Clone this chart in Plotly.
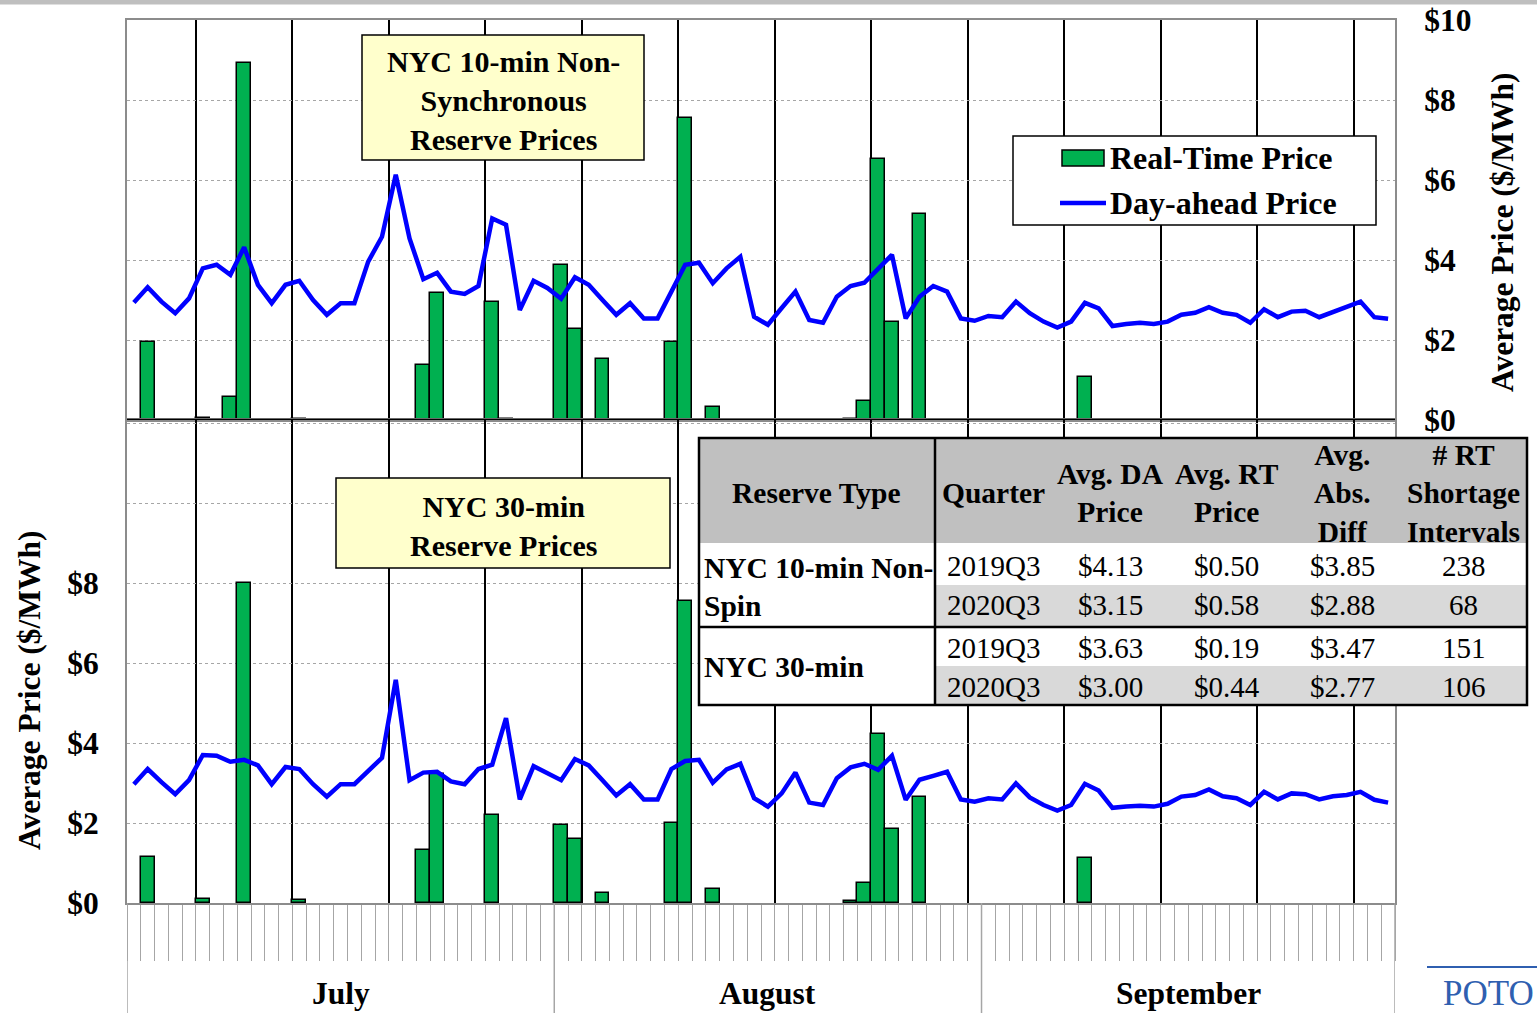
import pandas as pd
import plotly.graph_objects as go
from plotly.subplots import make_subplots

# one value per day, Jul 1 - Sep 30 2020
days = pd.date_range("2020-07-01", "2020-09-30", freq="D")
months = ["July", "August", "September"]
month_edges = ["2020-07-01", "2020-08-01", "2020-09-01", "2020-10-01"]
month_mid = ["2020-07-16 12:00", "2020-08-16 12:00", "2020-09-16"]

# NYC 10-min non-synchronous reserve prices ($/MWh)
da_10min = [2.94, 3.32, 2.96, 2.67, 3.04, 3.79, 3.88, 3.63, 4.32, 3.38,
            2.92, 3.38, 3.48, 3.00, 2.63, 2.92, 2.92, 3.96, 4.58, 6.13,
            4.54, 3.52, 3.68, 3.21, 3.15, 3.35, 5.04, 4.88, 2.75, 3.48,
            3.30, 3.03, 3.57, 3.38, 3.00, 2.63, 2.92, 2.54, 2.54, 3.20,
            3.88, 3.93, 3.42, 3.79, 4.08, 2.58, 2.38, 2.80, 3.21, 2.50,
            2.43, 3.08, 3.35, 3.43, 3.79, 4.13, 2.54, 3.08, 3.35, 3.21,
            2.54, 2.48, 2.60, 2.57, 2.96, 2.67, 2.46, 2.31, 2.46, 2.93,
            2.79, 2.35, 2.40, 2.43, 2.40, 2.46, 2.63, 2.68, 2.82, 2.68,
            2.63, 2.43, 2.77, 2.57, 2.71, 2.73, 2.57, 2.71, 2.82, 2.96,
            2.57, 2.53]
rt_10min = [0, 1.94, 0, 0, 0, 0.05, 0, 0.57, 8.92, 0,
            0, 0, 0.03, 0, 0, 0, 0, 0, 0, 0,
            0, 1.38, 3.17, 0, 0, 0, 2.94, 0.03, 0, 0,
            0, 3.88, 2.28, 0, 1.53, 0, 0, 0, 0, 1.96,
            7.54, 0, 0.32, 0, 0, 0, 0, 0, 0, 0,
            0, 0, 0.03, 0.48, 6.53, 2.46, 0, 5.15, 0, 0,
            0, 0, 0, 0, 0, 0, 0, 0, 0, 1.08,
            0, 0, 0, 0, 0, 0, 0, 0, 0, 0,
            0, 0, 0, 0, 0, 0, 0, 0, 0, 0,
            0, 0]

# NYC 30-min reserve prices ($/MWh)
da_30min = [2.97, 3.35, 3.02, 2.72, 3.07, 3.70, 3.68, 3.53, 3.58, 3.44,
            2.97, 3.40, 3.35, 2.97, 2.66, 2.97, 2.97, 3.30, 3.63, 5.58,
            3.07, 3.26, 3.28, 3.04, 2.97, 3.35, 3.46, 4.62, 2.59, 3.42,
            3.26, 3.07, 3.60, 3.44, 3.07, 2.69, 2.97, 2.59, 2.59, 3.35,
            3.55, 3.58, 3.01, 3.34, 3.48, 2.62, 2.41, 2.74, 3.26, 2.51,
            2.45, 3.12, 3.39, 3.48, 3.33, 3.68, 2.58, 3.08, 3.18, 3.28,
            2.59, 2.53, 2.62, 2.59, 2.99, 2.64, 2.45, 2.31, 2.45, 2.98,
            2.81, 2.38, 2.41, 2.43, 2.41, 2.48, 2.66, 2.70, 2.84, 2.67,
            2.62, 2.45, 2.78, 2.59, 2.74, 2.72, 2.59, 2.67, 2.70, 2.78,
            2.58, 2.51]
rt_30min = [0, 1.16, 0, 0, 0, 0.10, 0, 0, 8.00, 0,
            0, 0, 0.07, 0, 0, 0, 0, 0, 0, 0,
            0, 1.32, 3.22, 0, 0, 0, 2.19, 0, 0, 0,
            0, 1.96, 1.60, 0, 0.26, 0, 0, 0, 0, 2.00,
            7.56, 0, 0.34, 0, 0, 0, 0, 0, 0, 0,
            0, 0, 0.05, 0.51, 4.22, 1.86, 0, 2.66, 0, 0,
            0, 0, 0, 0, 0, 0, 0, 0, 0, 1.12,
            0, 0, 0, 0, 0, 0, 0, 0, 0, 0,
            0, 0, 0, 0, 0, 0, 0, 0, 0, 0,
            0, 0]

# summary table
table_header = ["Reserve Type", "Quarter", "Avg. DA<br>Price", "Avg. RT<br>Price",
                "Avg.<br>Abs.<br>Diff", "# RT<br>Shortage<br>Intervals"]
reserve_types = ["NYC 10-min Non-<br>Spin", "NYC 30-min"]
quarters = ["2019Q3", "2020Q3", "2019Q3", "2020Q3"]
avg_da = ["$4.13", "$3.15", "$3.63", "$3.00"]
avg_rt = ["$0.50", "$0.58", "$0.19", "$0.44"]
avg_abs_diff = ["$3.85", "$2.88", "$3.47", "$2.77"]
rt_shortage = ["238", "68", "151", "106"]

W, H = 1537, 1013
L, R, T, B = 127, 1395, 20, 903
FONT = "Liberation Serif"
DAY = 86400000
GREEN = "#00B050"
BLUE = "#0000FF"


def px(x):
    return (x - L) / (R - L)


def py(y):
    return (B - y) / (B - T)


def bold(size):
    return dict(family=FONT, size=size, color="black", weight="bold")


def note(text, x, y, font, xanchor="center", **kw):
    # text placed in page pixels
    return dict(text=text, x=px(x), y=py(y), xref="paper", yref="paper",
                xanchor=xanchor, yanchor="middle", showarrow=False, font=font, **kw)


fig = make_subplots(rows=2, cols=1, shared_xaxes=True, vertical_spacing=0)

for row, da, rt in [(1, da_10min, rt_10min), (2, da_30min, rt_30min)]:
    fig.add_trace(go.Bar(
        x=days, y=[v if v else None for v in rt],
        width=DAY, xperiod=DAY, xperiodalignment="middle",
        marker=dict(color=GREEN, line=dict(color="black", width=1.5)),
        name="Real-Time Price", showlegend=False,
    ), row=row, col=1)
    fig.add_trace(go.Scatter(
        x=days, y=da, mode="lines",
        xperiod=DAY, xperiodalignment="middle",
        line=dict(color=BLUE, width=4.5),
        name="Day-ahead Price", showlegend=False,
    ), row=row, col=1)

tickfont = bold(31.5)

fig.update_xaxes(
    type="date", range=["2020-07-01", "2020-10-01"],
    tick0="2020-07-06", dtick=7 * DAY,
    showgrid=True, gridcolor="black", gridwidth=1.5,
    showticklabels=False, zeroline=False, automargin=False,
    showline=True, linecolor="#8C8C8C", linewidth=2, mirror=True,
)
fig.update_xaxes(ticks="", row=1, col=1)
fig.update_xaxes(
    ticks="outside", ticklen=56, tickcolor="#A6A6A6", tickwidth=1,
    minor=dict(dtick=DAY, tick0="2020-07-01", ticks="outside", ticklen=56,
               tickcolor="#A6A6A6", tickwidth=1, showgrid=False),
    row=2, col=1,
)

split = (B - 420) / (B - T)
fig.update_yaxes(
    domain=[split, 1], side="right", range=[0, 10],
    tickvals=[0, 2, 4, 6, 8, 10], ticktext=["$0", "$2", "$4", "$6", "$8", "$10"],
    showgrid=True, gridcolor="#A6A6A6", griddash="dot", gridwidth=1,
    zeroline=False, showline=True, linecolor="#8C8C8C", linewidth=2, mirror=True,
    ticks="", ticklabelstandoff=21, tickfont=tickfont, automargin=False,
    row=1, col=1,
)
fig.update_yaxes(
    domain=[0, split], side="left", range=[0, (B - 420) / 40],
    tickvals=[0, 2, 4, 6, 8, 10, 12], ticktext=["$0", "$2", "$4", "$6", "$8", "", ""],
    showgrid=True, gridcolor="#A6A6A6", griddash="dot", gridwidth=1,
    zeroline=False, showline=True, linecolor="#8C8C8C", linewidth=2, mirror=True,
    ticks="", ticklabelstandoff=20, tickfont=tickfont, automargin=False,
    row=2, col=1,
)

shapes = []
annotations = []

# grey band across the top of the page
shapes.append(dict(type="rect", xref="paper", yref="paper", x0=px(-2), x1=px(W + 2),
                   y0=py(4.5), y1=py(-2), fillcolor="#BFBFBF", line=dict(width=0)))

# black zero line of the upper panel
shapes.append(dict(type="line", xref="x domain", yref="y", x0=0, x1=1, y0=0, y1=0,
                   line=dict(color="black", width=2.5)))

# month separators under the axis
for d in month_edges:
    shapes.append(dict(type="line", xref="x", yref="paper", x0=d, x1=d,
                       y0=0, y1=py(H + 5), line=dict(color="#A6A6A6", width=1.5)))
for m, d in zip(months, month_mid):
    annotations.append(dict(text=m, x=d, xref="x", y=py(993), yref="paper",
                            xanchor="center", yanchor="middle", showarrow=False,
                            font=bold(31.5)))

# axis titles
annotations.append(note("Average Price ($/MWh)", 1503, 232, tickfont, textangle=-90))
annotations.append(note("Average Price ($/MWh)", 29, 690, tickfont, textangle=-90))

# panel title boxes
boxfont = bold(30)
for (x0, x1, y0, y1), text in [((362, 644, 35, 160), "NYC 10-min Non-<br>Synchronous<br>Reserve Prices"),
                                ((336, 670, 478, 568), "NYC 30-min<br>Reserve Prices")]:
    shapes.append(dict(type="rect", xref="paper", yref="paper", x0=px(x0), x1=px(x1),
                       y0=py(y1), y1=py(y0), fillcolor="#FFFFCC", line=dict(color="black", width=1.5)))
    annotations.append(note(text, (x0 + x1) / 2, (y0 + y1) / 2 + 3, boxfont))

# legend
legfont = bold(32)
shapes.append(dict(type="rect", xref="paper", yref="paper", x0=px(1013), x1=px(1376),
                   y0=py(225), y1=py(136), fillcolor="white", line=dict(color="black", width=1.5)))
shapes.append(dict(type="rect", xref="paper", yref="paper", x0=px(1062), x1=px(1104),
                   y0=py(166), y1=py(150), fillcolor=GREEN, line=dict(color="black", width=1.5)))
shapes.append(dict(type="line", xref="paper", yref="paper", x0=px(1060), x1=px(1106),
                   y0=py(203), y1=py(203), line=dict(color=BLUE, width=4.5)))
annotations.append(note("Real-Time Price", 1108, 158, legfont, xanchor="left"))
annotations.append(note("Day-ahead Price", 1108, 203, legfont, xanchor="left"))

# summary table
col_edges = [699, 935, 1052, 1168, 1285, 1400, 1527]
row_edges = [438, 543, 585, 627, 666, 705]
shapes.append(dict(type="rect", xref="paper", yref="paper", x0=px(699), x1=px(1527),
                   y0=py(705), y1=py(438), fillcolor="white", line=dict(width=0)))
shapes.append(dict(type="rect", xref="paper", yref="paper", x0=px(699), x1=px(1527),
                   y0=py(543), y1=py(438), fillcolor="#C0C0C0", line=dict(width=0)))
for r in (2, 4):
    shapes.append(dict(type="rect", xref="paper", yref="paper", x0=px(935), x1=px(1527),
                       y0=py(row_edges[r + 1]), y1=py(row_edges[r]), fillcolor="#D9D9D9", line=dict(width=0)))
shapes.append(dict(type="rect", xref="paper", yref="paper", x0=px(699), x1=px(1527),
                   y0=py(705), y1=py(438), line=dict(color="black", width=2.5)))
shapes.append(dict(type="line", xref="paper", yref="paper", x0=px(935), x1=px(935),
                   y0=py(705), y1=py(438), line=dict(color="black", width=2.5)))
shapes.append(dict(type="line", xref="paper", yref="paper", x0=px(699), x1=px(1527),
                   y0=py(627), y1=py(627), line=dict(color="black", width=2.5)))

hfont = bold(29.5)
cfont = dict(family=FONT, size=29, color="black")
for i, h in enumerate(table_header):
    annotations.append(note(h, (col_edges[i] + col_edges[i + 1]) / 2, 493, hfont))
for text, yc in zip(reserve_types, [587, 667]):
    annotations.append(note(text, 702, yc, hfont, xanchor="left", align="left"))
row_centers = [566, 605, 648, 687]
for c, col in enumerate([quarters, avg_da, avg_rt, avg_abs_diff, rt_shortage], start=1):
    for text, yc in zip(col, row_centers):
        annotations.append(note(text, (col_edges[c] + col_edges[c + 1]) / 2, yc, cfont))

# logo fragment in the corner
shapes.append(dict(type="line", xref="paper", yref="paper", x0=px(1427), x1=px(W + 5),
                   y0=py(967), y1=py(967), line=dict(color="#2F5FB0", width=2)))
annotations.append(note("POTO", 1441, 993, dict(family=FONT, size=35, color="#2F5FB0"),
                        xanchor="left"))

fig.update_layout(
    width=W, height=H,
    margin=dict(l=L, r=W - R, t=T, b=H - B, pad=0, autoexpand=False),
    paper_bgcolor="white", plot_bgcolor="white",
    bargap=0, barmode="overlay",
    shapes=shapes, annotations=annotations,
    showlegend=False,
)

fig.write_html("out.html", config={"displayModeBar": False},
               post_script="document.body.style.margin='0';")
